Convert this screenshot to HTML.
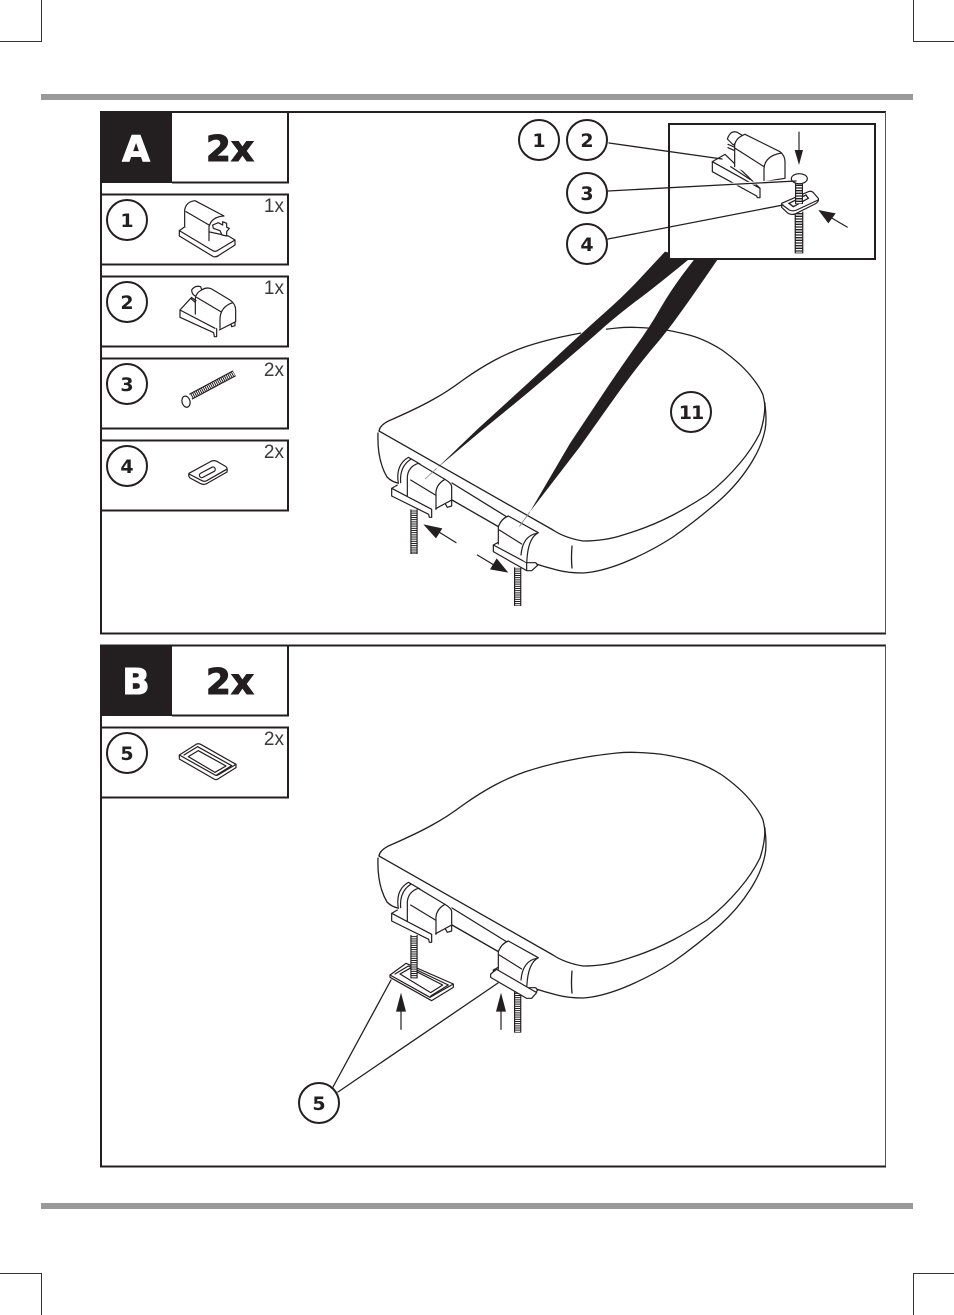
<!DOCTYPE html>
<html>
<head>
<meta charset="utf-8">
<style>
html,body{margin:0;padding:0;background:#fff;width:954px;height:1315px;overflow:hidden}
svg{display:block}
.n{font-family:"DejaVu Sans","Liberation Sans",sans-serif;font-weight:bold;font-size:19px;text-anchor:middle;fill:#231f20}
.q{font-family:"Liberation Sans",sans-serif;font-size:19px;text-anchor:end;fill:#3a3a3a}
.h{font-family:"DejaVu Sans","Liberation Sans",sans-serif;font-weight:bold;font-size:36px;text-anchor:middle;fill:#231f20;stroke:#231f20;stroke-width:1}
.b{fill:none;stroke:#231f20;stroke-width:2}
.s{fill:none;stroke:#231f20;stroke-width:1.3;stroke-linecap:round;stroke-linejoin:round}
.z{fill:none;stroke:#231f20;stroke-width:3.6;stroke-linecap:round;stroke-linejoin:round}
.w{fill:#fff;stroke:#231f20;stroke-width:3.6;stroke-linecap:round;stroke-linejoin:round}
.c{fill:#fff;stroke:#231f20;stroke-width:2}
</style>
</head>
<body>
<svg width="954" height="1315" viewBox="0 0 954 1315" xmlns="http://www.w3.org/2000/svg">
<defs>
<g id="seat">
  <path class="s" d="M379,431 L553,530 Q565,538 583,541 Q605,541 623,535 Q650,527 673,515 Q690,506 707,495 Q725,481 740,463 Q752,449 760,433 Q765,418 765,403"/>
  <path class="s" d="M379,431 Q380,424 393,419 Q420,407 433,399.5 Q447,392 463,380 Q480,368 495,360 Q510,352 526,346.5 Q543,341 561,337 Q580,333 593,331 Q607,329 617,328 Q627,327 638,327.5 Q650,328 659,329 Q668,330 685,334 Q703,338 722,350 Q740,363 750,375 Q760,387 763,395 Q765,403 765,410"/>
  <path class="s" d="M765,405 Q767,420 765,430 Q762,445 753,460 Q740,482 720,500 Q697,520 673,537 Q650,552 623,563 Q600,572 583,573 Q568,573 557,570 Q545,567 533,563"/>
  <path class="s" d="M378,433 Q377,460 387,477 Q392,482 398,483"/>
  <path class="s" d="M572,546 Q571,558 572,568"/>
  <path class="s" d="M452,483 L507,517"/>
  <path class="s" d="M452,500 L499,527"/>
  <g transform="translate(370,420) scale(.33333)">
    <path class="w" d="M85,190 Q76,135 115,112 L150,132 L125,190"/>
    <path class="z" d="M92,188 Q88,140 122,118"/>
    <path class="w" d="M225,250 L245,240 V258 L232,262Z"/>
    <path class="w" d="M65,205 L185,268 V292 H178 L176,283 L65,228Z"/>
    <path class="z" d="M65,205 L82,195"/>
    <path class="w" d="M112,228 V170 Q115,140 145,130 L225,178 Q245,190 245,200 V240 L197,266"/>
    <path class="z" d="M198,226 Q195,195 225,178"/>
    <path class="z" d="M122,180 L198,226 V268"/>
    <path class="w" d="M370,375 L470,428 H497 L503,436 L485,452 H470 L370,395Z"/>
    <path class="z" d="M370,375 L385,367"/>
    <path class="w" d="M385,372 V320 Q395,295 415,288 L505,338 Q478,352 472,405 L470,428"/>
    <path class="z" d="M388,330 L455,372"/>
    <path class="z" d="M500,340 Q458,348 453,405"/>
    <path class="z" d="M470,428 V450"/>
  </g>
</g>
</defs>

<!-- crop marks -->
<g fill="none" stroke="#333" stroke-width="1">
  <path d="M41.5,0 V41.5 H0"/>
  <path d="M913.5,0 V41.5 H954"/>
  <path d="M41.5,1315 V1273.5 H0"/>
  <path d="M913.5,1315 V1273.5 H954"/>
</g>
<rect x="41" y="94" width="872" height="6" fill="#999"/>
<rect x="41" y="1203" width="872" height="6" fill="#999"/>

<!-- Panel A -->
<path class="b" d="M886,112 H101 V633.5 H886"/>
<path d="M885.5,112 V633" stroke="#555" stroke-width="1"/>
<rect x="100" y="111" width="72" height="72" fill="#231f20"/>
<path class="b" d="M172,112 H288 V182.5 H172"/>
<text x="136" y="161" class="h" style="fill:#fff;stroke:#fff">A</text>
<text x="230" y="161" class="h">2x</text>

<path class="b" d="M101,194.5 H288 V264.5 H101"/>
<path class="b" d="M101,276.5 H288 V346.5 H101"/>
<path class="b" d="M101,358.5 H288 V428.5 H101"/>
<path class="b" d="M101,440.5 H288 V510.5 H101"/>

<circle cx="127" cy="220" r="20" class="c"/><text x="127" y="227" class="n">1</text>
<circle cx="127" cy="302" r="20" class="c"/><text x="127" y="309" class="n">2</text>
<circle cx="127" cy="384" r="20" class="c"/><text x="127" y="391" class="n">3</text>
<circle cx="127" cy="466" r="20" class="c"/><text x="127" y="473" class="n">4</text>

<text x="284" y="212" class="q">1x</text>
<text x="284" y="294" class="q">1x</text>
<text x="284" y="376" class="q">2x</text>
<text x="284" y="458" class="q">2x</text>

<!-- icon 1 -->
<g transform="translate(100,110) scale(.33333)">
  <path class="w" d="M255,350 L238,362 V378 L340,440 Q350,442 358,435 L405,405 V390 L385,378Z"/>
  <path class="z" d="M238,362 L335,420 Q345,428 355,420 L405,390"/>
  <path class="w" d="M254,350 V300 Q258,275 285,272 L372,318 Q335,320 327,350 V392"/>
  <path class="z" d="M258,305 L327,345"/>
  <path class="w" d="M338,345 L355,338 L368,345 V335 L380,340 V352 L388,355 L380,365 V378 L366,375 L360,362 L340,355Z"/>
</g>
<!-- icon 2 -->
<g transform="translate(100,110) scale(.33333)">
  <path class="w" d="M275,540 Q285,525 302,530 L308,548 L290,560 Q275,555 275,540Z"/>
  <path class="w" d="M392,640 L405,632 V647 L395,650Z"/>
  <path class="w" d="M240,600 L272,565 L300,590 L350,640 V680 H343 L341,668 L240,622Z"/>
  <path class="w" d="M286,612 V565 Q288,548 305,540 Q320,530 335,537 L390,570 Q407,582 407,600 V635 L358,660"/>
  <path class="z" d="M240,600 L345,655"/>
  <path class="z" d="M290,562 L362,605"/>
  <path class="z" d="M398,578 Q362,590 360,625 V655"/>
  <path class="z" d="M274,562 L288,572"/>
</g>
<!-- icon 3 -->
<g transform="translate(100,350) scale(.33333)">
  <path d="M272,140 L403,70" stroke="#231f20" stroke-width="20" fill="none"/>
  <path d="M272,140 L403,70" stroke="#fff" stroke-width="13" stroke-dasharray="3 3" fill="none"/>
  <ellipse cx="258" cy="155" rx="12" ry="17" transform="rotate(-15 258 155)" class="w"/>
</g>
<!-- icon 4 -->
<g transform="translate(100,350) scale(.33333)">
  <path class="w" d="M267,370 L335,333 Q345,330 352,335 L378,350 Q383,354 381,366 L318,402 Q310,405 300,400 L270,384 Q264,378 267,370Z"/>
  <path class="z" d="M267,372 L306,392 Q314,396 322,391 L380,358"/>
  <rect x="296" y="360" width="52" height="14" rx="7" transform="rotate(-28 322 367)" class="w"/>
</g>

<use href="#seat"/>
<path d="M581,333.5 L606,329.5 M649,328 L667,330" stroke="#fff" stroke-width="3" fill="none"/>

<!-- wedges -->
<g transform="translate(420,255) scale(.33333)" fill="#231f20">
  <path d="M735,-10 L677,52 Q620,115 555,172 Q490,230 415,300 Q340,370 285,420 Q230,470 175,520 L50,640 L175,535 Q230,490 285,445 Q340,400 427,325 Q515,250 557,212 Q600,175 650,137 Q700,100 810,10Z"/>
  <path d="M825,10 L787,60 Q750,110 720,162 Q690,215 645,277 Q600,340 550,415 Q500,490 450,565 L330,770 L480,575 Q540,490 590,420 Q640,350 692,287 Q745,225 782,172 Q820,120 895,10Z"/>
  <path d="M50,640 L15,672 M330,770 L298,815" stroke="#888" stroke-width="2.5"/>
</g>

<!-- panel A screws and arrows -->
<g transform="translate(370,420) scale(.33333)">
  <path d="M132,268 V402" stroke="#231f20" stroke-width="22" fill="none"/>
  <path d="M132,268 V400" stroke="#fff" stroke-width="15" stroke-dasharray="3.5 3" fill="none"/>
  <path d="M443,442 V558" stroke="#231f20" stroke-width="22" fill="none"/>
  <path d="M443,442 V556" stroke="#fff" stroke-width="15" stroke-dasharray="3.5 3" fill="none"/>
  <path class="z" d="M258,368 L205,335"/>
  <path d="M160,313 L217,325 L198,355Z" fill="#231f20"/>
  <path class="z" d="M322,405 L375,437"/>
  <path d="M415,458 L360,448 L380,415Z" fill="#231f20"/>
</g>

<circle cx="691" cy="412" r="20" class="c"/><text x="691" y="419" class="n" style="letter-spacing:-1px">11</text>

<!-- inset -->
<rect x="669" y="124" width="206" height="135" fill="#fff" stroke="#231f20" stroke-width="2"/>
<g transform="translate(700,125) scale(.33333)">
  <path class="w" d="M82,42 Q92,14 112,22 L128,32 L100,60Z"/>
  <path class="w" d="M37,110 L75,88 L180,190 V218 H172 L170,213 L37,140Z"/>
  <path class="z" d="M37,110 L180,190"/>
  <path class="w" d="M104,125 V60 Q108,38 135,28 L240,80 Q255,92 255,110 V160 L192,170"/>
  <path class="z" d="M245,84 Q195,92 192,130 V170"/>
  <path class="z" d="M106,70 L192,125"/>
  <path class="z" d="M84,58 L102,66 M84,68 L102,76"/>
  <path class="z" d="M92,125 L150,163"/>
</g>
<g transform="translate(680,120) scale(.33333)">
  <path d="M357,35 V92" stroke="#231f20" stroke-width="3.5"/>
  <path d="M344,90 H369 L357,135Z" fill="#231f20"/>
  <path d="M357,275 V400" stroke="#231f20" stroke-width="26" fill="none"/>
  <path d="M357,275 V398" stroke="#fff" stroke-width="19" stroke-dasharray="4 4" fill="none"/>
  <path class="w" d="M305,250 L385,215 Q395,211 402,220 L415,235 Q418,245 405,252 L345,282 Q332,286 322,278 L305,262Z"/>
  <path class="z" d="M306,254 L328,270 Q338,275 350,270 L414,240"/>
  <path d="M327,250 L378,225 L385,235 L340,260Z" fill="#fff" stroke="#231f20" stroke-width="4"/>
  <path d="M357,190 V252" stroke="#231f20" stroke-width="24" fill="none"/>
  <path d="M357,190 V250" stroke="#fff" stroke-width="17" stroke-dasharray="4 4" fill="none"/>
  <ellipse cx="358" cy="176" rx="24" ry="15" class="w"/>
  <path d="M503,322 L448,290" stroke="#231f20" stroke-width="3.5"/>
  <path d="M415,270 L467,280 L445,310Z" fill="#231f20"/>
</g>
<path d="M700,186 L790,181" stroke="#fff" stroke-width="3"/>
<path class="s" d="M609,143 L722,159"/>
<path class="s" d="M608,191 L796,181"/>
<path class="s" d="M608,239 L783,205"/>
<circle cx="539" cy="140" r="20" class="c"/><text x="539" y="147" class="n">1</text>
<circle cx="587" cy="140" r="20" class="c"/><text x="587" y="147" class="n">2</text>
<circle cx="587" cy="193" r="20" class="c"/><text x="587" y="200" class="n">3</text>
<circle cx="587" cy="244" r="20" class="c"/><text x="587" y="251" class="n">4</text>

<!-- Panel B -->
<path class="b" d="M886,645.5 H101 V1166.5 H886"/>
<path d="M885.5,645.5 V1166" stroke="#555" stroke-width="1"/>
<rect x="100" y="645" width="72" height="71" fill="#231f20"/>
<path class="b" d="M172,645.5 H288 V715.5 H172"/>
<text x="136" y="694" class="h" style="fill:#fff;stroke:#fff">B</text>
<text x="230" y="694" class="h">2x</text>
<path class="b" d="M101,727.5 H288 V797.5 H101"/>
<circle cx="127" cy="753" r="20" class="c"/><text x="127" y="760" class="n">5</text>
<text x="284" y="745" class="q">2x</text>
<g transform="translate(100,640) scale(.33333)">
  <path class="w" d="M238,345 L290,312 Q296,310 302,313 L408,373 V383 L352,418 Q347,420 342,417 L238,357Z"/>
  <path class="z" d="M238,345 L345,405 Q350,408 356,404 L408,373"/>
  <path class="z" d="M265,350 L295,332 L378,378 L345,397Z"/>
  <path class="z" d="M252,345 L293,320 L395,377 L350,405"/>
</g>

<use href="#seat" y="425"/>

<g transform="translate(370,870) scale(.33333)">
  <path class="w" d="M60,315 L108,280 L250,342 V352 L185,392 L60,322Z"/>
  <path class="z" d="M60,315 L180,382 L250,342"/>
  <path class="z" d="M90,312 L120,295 L218,345 L182,368Z"/>
  <path class="z" d="M75,312 L115,288 L235,345 L182,378"/>
  <path d="M132,195 V325" stroke="#231f20" stroke-width="22" fill="none"/>
  <path d="M132,195 V323" stroke="#fff" stroke-width="15" stroke-dasharray="3.5 3" fill="none"/>
  <path d="M443,365 V488" stroke="#231f20" stroke-width="22" fill="none"/>
  <path d="M443,365 V486" stroke="#fff" stroke-width="15" stroke-dasharray="3.5 3" fill="none"/>
  <path class="w" d="M362,312 L380,298 L500,368 L485,385 H470 L362,322Z"/>
  <path class="z" d="M93,478 V420 M393,478 V420"/>
  <path d="M93,368 L108,425 H78Z M393,368 L408,425 H378Z" fill="#231f20"/>
</g>
<path class="s" d="M333,1087 L391,980"/>
<path class="s" d="M338,1092 L498,983"/>
<circle cx="319" cy="1103" r="20" class="c"/><text x="319" y="1110" class="n">5</text>
</svg>
</body>
</html>
